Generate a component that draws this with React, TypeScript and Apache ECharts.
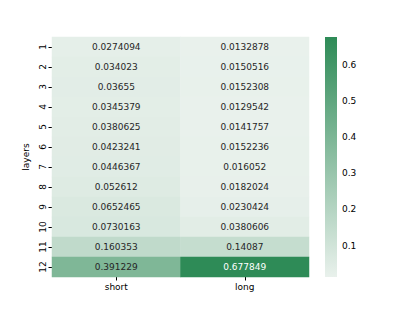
import React, { useEffect, useRef } from "react";
import * as echarts from "echarts";

const columns = ["short", "long"];
const layers = ["1", "2", "3", "4", "5", "6", "7", "8", "9", "10", "11", "12"];
const shortValues = [0.0274094, 0.034023, 0.03655, 0.0345379, 0.0380625, 0.0423241, 0.0446367, 0.052612, 0.0652465, 0.0730163, 0.160353, 0.391229];
const longValues = [0.0132878, 0.0150516, 0.0152308, 0.0129542, 0.0141757, 0.0152236, 0.016052, 0.0182024, 0.0230424, 0.0380606, 0.14087, 0.677849];
const colorbarTicks = [0.1, 0.2, 0.3, 0.4, 0.5, 0.6];

const LIGHT = "#e9f1ec";
const DARK = "#2e8b57";
const FONT = "DejaVu Sans";

export default function App() {
  const ref = useRef<HTMLDivElement>(null);
  useEffect(() => {
    if (!ref.current) return;
    const chart = echarts.init(ref.current, null, { renderer: "svg" });
    const all = [...shortValues, ...longValues];
    const vmin = Math.min(...all);
    const vmax = Math.max(...all);
    const data: any[] = [];
    [shortValues, longValues].forEach((vals, ci) => {
      vals.forEach((v, ri) => {
        const t = (v - vmin) / (vmax - vmin);
        data.push({
          value: [ci, ri, v],
          label: { color: t > 0.7 ? "#ffffff" : "#262626" },
        });
      });
    });
    const gx = 52, gy = 37, gw = 257, gh = 240;
    const cx = 325, cw = 12;
    chart.setOption({
      animation: false,
      backgroundColor: "#ffffff",
      textStyle: { fontFamily: FONT },
      grid: [
        { left: gx, top: gy, width: gw, height: gh },
        { left: cx, top: gy, width: cw, height: gh },
      ],
      xAxis: [
        {
          type: "category",
          gridIndex: 0,
          data: columns,
          axisLine: { show: false },
          axisTick: { show: true, alignWithLabel: true, length: 3.5, lineStyle: { color: "#000" } },
          axisLabel: { color: "#000", fontSize: 9, fontFamily: FONT, margin: 5 },
          splitLine: { show: false },
        },
        { type: "value", gridIndex: 1, show: false, min: 0, max: 1 },
      ],
      yAxis: [
        {
          type: "category",
          gridIndex: 0,
          data: layers,
          inverse: true,
          name: "layers",
          nameLocation: "middle",
          nameRotate: 90,
          nameGap: 20,
          nameTextStyle: { color: "#000", fontSize: 9, fontFamily: FONT },
          axisLine: { show: false },
          axisTick: { show: true, alignWithLabel: true, length: 3.5, lineStyle: { color: "#000" } },
          axisLabel: { color: "#000", fontSize: 9, fontFamily: FONT, rotate: 90, margin: 5 },
          splitLine: { show: false },
        },
        {
          type: "value",
          gridIndex: 1,
          min: vmin,
          max: vmax,
          position: "right",
          axisLine: { show: false },
          axisTick: { show: true, length: 3.5, lineStyle: { color: "#000" }, customValues: colorbarTicks },
          axisLabel: {
            color: "#000",
            fontSize: 9,
            fontFamily: FONT,
            margin: 5,
            customValues: colorbarTicks,
            formatter: (v: number) => v.toFixed(1),
          },
          splitLine: { show: false },
        },
      ],
      visualMap: {
        show: false,
        type: "continuous",
        min: vmin,
        max: vmax,
        dimension: 2,
        seriesIndex: 0,
        inRange: { color: [LIGHT, DARK] },
      },
      series: [
        {
          type: "heatmap",
          xAxisIndex: 0,
          yAxisIndex: 0,
          data,
          label: { show: true, fontSize: 9, fontFamily: FONT, formatter: (p: any) => String(p.value[2]) },
          itemStyle: { borderWidth: 0 },
          emphasis: { disabled: true },
        },
        {
          type: "custom",
          xAxisIndex: 1,
          yAxisIndex: 1,
          data: [[0, vmin, 1, vmax]],
          renderItem: (params: any, api: any) => {
            const p0 = api.coord([api.value(0), api.value(1)]);
            const p1 = api.coord([api.value(2), api.value(3)]);
            return {
              type: "rect",
              shape: { x: p0[0], y: p1[1], width: p1[0] - p0[0], height: p0[1] - p1[1] },
              style: {
                fill: new echarts.graphic.LinearGradient(0, 0, 0, 1, [
                  { offset: 0, color: DARK },
                  { offset: 1, color: LIGHT },
                ]),
              },
            };
          },
          silent: true,
        },
      ],
    });
    return () => chart.dispose();
  }, []);
  return <div ref={ref} style={{ position: "fixed", left: 0, top: 0, width: 415, height: 311 }} />;
}
